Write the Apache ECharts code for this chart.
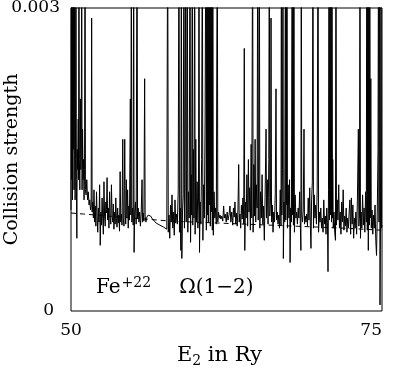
<!DOCTYPE html>
<html>
<head>
<meta charset="utf-8">
<script src="https://cdn.jsdelivr.net/npm/echarts@6/dist/echarts.min.js"></script>
<style>
  html, body { margin: 0; padding: 0; background: #fff; }
  #chart { width: 393px; height: 369px; }
</style>
</head>
<body>
<div id="chart"></div>
<script>
// collision strength Omega(1-2) for Fe+22, E2 in Ry
// 0.004 = resonance running off the top of the frame
const omegaA = [
  [50.00, 0.001], [50.03, 0.004], [50.06, 0.0013], [50.09, 0.004], [50.12, 0.0011], [50.15, 0.004],
  [50.18, 0.0016], [50.21, 0.004], [50.24, 0.0012], [50.27, 0.0017], [50.30, 0.004], [50.33, 0.0011],
  [50.36, 0.0015], [50.40, 0.004], [50.43, 0.0013], [50.47, 0.00072], [50.50, 0.0016], [50.54, 0.0014],
  [50.58, 0.0019], [50.61, 0.0013], [50.64, 0.004], [50.67, 0.0015], [50.71, 0.0012], [50.75, 0.0021],
  [50.79, 0.0014], [50.83, 0.0016], [50.86, 0.004], [50.89, 0.0012], [50.93, 0.0018], [50.97, 0.0013],
  [51.01, 0.0015], [51.05, 0.0011], [51.09, 0.0014], [51.13, 0.004], [51.16, 0.0012], [51.21, 0.00115],
  [51.27, 0.0013], [51.33, 0.0011], [51.39, 0.00118], [51.45, 0.00105], [51.51, 0.0011], [51.57, 0.001],
  [51.62, 0.00104], [51.66, 0.0029], [51.70, 0.00098], [51.75, 0.00108], [51.80, 0.00092], [51.85, 0.0012],
  [51.90, 0.00088], [51.95, 0.00104], [52.00, 0.00084], [52.05, 0.00118], [52.10, 0.00095], [52.15, 0.00078],
  [52.20, 0.00102], [52.25, 0.00088], [52.30, 0.00125], [52.35, 0.00065], [52.40, 0.00098], [52.45, 0.00085],
  [52.50, 0.00112], [52.55, 0.00092], [52.60, 0.00076], [52.65, 0.00128], [52.70, 0.00094], [52.75, 0.00084],
  [52.80, 0.00108], [52.85, 0.00097], [52.90, 0.00132], [52.95, 0.0009], [53.00, 0.00102], [53.05, 0.00082],
  [53.10, 0.00118], [53.15, 0.00092], [53.20, 0.00086], [53.25, 0.00125], [53.30, 0.00095], [53.35, 0.00088],
  [53.40, 0.00106], [53.45, 0.00081], [53.50, 0.00098], [53.55, 0.00086], [53.60, 0.00112], [53.65, 0.00092],
  [53.70, 0.00083], [53.75, 0.00102], [53.80, 0.00087], [53.85, 0.00095], [53.90, 0.00079], [53.95, 0.00138],
  [54.00, 0.00088], [54.05, 0.00096], [54.10, 0.00085], [54.16, 0.0017], [54.20, 0.00092], [54.26, 0.00084]
];
const omegaB = [
  [54.32, 0.0017], [54.36, 0.00098], [54.40, 0.00086], [54.45, 0.0013], [54.50, 0.00092], [54.55, 0.0012],
  [54.60, 0.00082], [54.65, 0.00104], [54.70, 0.0009], [54.77, 0.0021], [54.81, 0.00095], [54.85, 0.004],
  [54.89, 0.00088], [54.95, 0.00102], [55.00, 0.00085], [55.04, 0.004], [55.07, 0.00058], [55.12, 0.00096],
  [55.18, 0.00108], [55.24, 0.00086], [55.31, 0.004], [55.35, 0.00092], [55.40, 0.00102], [55.46, 0.00088],
  [55.52, 0.00098], [55.58, 0.00084], [55.64, 0.00096], [55.71, 0.0013], [55.75, 0.00088], [55.80, 0.00097],
  [55.86, 0.00089], [55.92, 0.0023], [55.96, 0.00094], [56.02, 0.00088], [56.10, 0.00093], [56.20, 0.00095],
  [56.30, 0.00096], [56.40, 0.00094], [56.55, 0.00091], [56.70, 0.00089], [56.85, 0.00087], [57.00, 0.00086],
  [57.15, 0.00085], [57.30, 0.00084], [57.45, 0.00083], [57.60, 0.00082], [57.70, 0.00081], [57.77, 0.004],
  [57.82, 0.00078], [57.88, 0.00095], [57.94, 0.00072], [58.00, 0.00105], [58.06, 0.00088], [58.12, 0.00115],
  [58.18, 0.00082], [58.24, 0.00098], [58.30, 0.00075], [58.36, 0.0011], [58.42, 0.00087], [58.48, 0.00096]
];
const omegaC = [
  [58.55, 0.00086], [58.62, 0.0012], [58.68, 0.004], [58.72, 0.00078], [58.78, 0.00102], [58.83, 0.0006],
  [58.87, 0.004], [58.91, 0.00052], [58.96, 0.00096], [59.02, 0.00115], [59.08, 0.004], [59.12, 0.00082],
  [59.17, 0.00125], [59.22, 0.004], [59.26, 0.00088], [59.30, 0.0014], [59.35, 0.004], [59.39, 0.00078],
  [59.44, 0.00118], [59.50, 0.00092], [59.57, 0.004], [59.61, 0.00068], [59.66, 0.00135], [59.70, 0.00095],
  [59.75, 0.004], [59.79, 0.00085], [59.84, 0.0016], [59.89, 0.00092], [59.94, 0.004], [59.98, 0.00076],
  [60.03, 0.0017], [60.08, 0.00088], [60.14, 0.00128], [60.20, 0.00082], [60.25, 0.00112], [60.29, 0.004],
  [60.33, 0.00058], [60.38, 0.00108], [60.44, 0.00086], [60.50, 0.0015], [60.56, 0.004], [60.60, 0.0007],
  [60.66, 0.00125], [60.72, 0.00092], [60.78, 0.0019], [60.84, 0.004], [60.88, 0.0008], [60.92, 0.004],
  [60.96, 0.00095], [61.00, 0.004], [61.04, 0.00088], [61.08, 0.004], [61.12, 0.00105], [61.16, 0.004],
  [61.20, 0.00084], [61.24, 0.004], [61.28, 0.00098], [61.32, 0.004], [61.36, 0.0008], [61.40, 0.004],
  [61.44, 0.00075], [61.50, 0.00118], [61.56, 0.00092], [61.62, 0.00102], [61.68, 0.00086], [61.76, 0.004],
  [61.80, 0.00088], [61.86, 0.00098], [61.92, 0.00092], [61.98, 0.00095], [62.05, 0.00091], [62.12, 0.00094],
  [62.20, 0.00089], [62.27, 0.00104], [62.33, 0.00092], [62.40, 0.00096], [62.48, 0.00088], [62.55, 0.00098],
  [62.62, 0.0009], [62.70, 0.00095]
];
const omegaD = [
  [62.78, 0.00104], [62.85, 0.00088], [62.92, 0.00098], [63.00, 0.00085], [63.06, 0.00102], [63.12, 0.00093],
  [63.18, 0.00108], [63.24, 0.00086], [63.30, 0.00097], [63.36, 0.00084], [63.42, 0.001], [63.48, 0.00145],
  [63.52, 0.00088], [63.58, 0.00096], [63.64, 0.00082], [63.70, 0.00105], [63.76, 0.00091], [63.82, 0.00112],
  [63.88, 0.00086], [63.93, 0.0026], [63.97, 0.0006], [64.02, 0.00108], [64.08, 0.00092], [64.14, 0.00135],
  [64.20, 0.00084], [64.26, 0.0015], [64.31, 0.00098], [64.36, 0.00122], [64.42, 0.0008], [64.48, 0.00165],
  [64.53, 0.00092], [64.60, 0.004], [64.64, 0.00078], [64.70, 0.00145], [64.75, 0.00094], [64.80, 0.0017],
  [64.85, 0.00088], [64.90, 0.00125], [64.96, 0.00102], [65.01, 0.004], [65.05, 0.0009], [65.10, 0.0016],
  [65.14, 0.004], [65.18, 0.00082], [65.24, 0.00118], [65.30, 0.00092], [65.36, 0.00135], [65.42, 0.00086],
  [65.48, 0.00104], [65.54, 0.0007], [65.60, 0.00112], [65.68, 0.0018], [65.72, 0.00092], [65.78, 0.0013],
  [65.84, 0.00086], [65.90, 0.0015], [65.94, 0.004], [65.98, 0.00094], [66.04, 0.00112], [66.08, 0.0029],
  [66.12, 0.00088], [66.18, 0.00105], [66.24, 0.00078], [66.30, 0.00098], [66.36, 0.00088], [66.42, 0.00116],
  [66.48, 0.0022], [66.52, 0.0009], [66.58, 0.00098], [66.64, 0.00086], [66.70, 0.00095], [66.76, 0.00082]
];
const omegaE = [
  [66.82, 0.0012], [66.88, 0.00085], [66.91, 0.004], [66.95, 0.00095], [67.00, 0.0014], [67.04, 0.004],
  [67.07, 0.00052], [67.12, 0.00108], [67.18, 0.00088], [67.24, 0.004], [67.27, 0.0009], [67.30, 0.004],
  [67.33, 0.00105], [67.36, 0.004], [67.40, 0.00082], [67.46, 0.00125], [67.52, 0.00092], [67.57, 0.0013],
  [67.61, 0.00048], [67.66, 0.00102], [67.72, 0.00088], [67.78, 0.004], [67.81, 0.00095], [67.85, 0.004],
  [67.88, 0.00085], [67.92, 0.004], [67.96, 0.00078], [68.02, 0.00115], [68.08, 0.00092], [68.14, 0.00098],
  [68.20, 0.00086], [68.26, 0.00102], [68.32, 0.00092], [68.38, 0.00118], [68.44, 0.00082], [68.48, 0.0006],
  [68.51, 0.004], [68.55, 0.00095], [68.61, 0.00088], [68.67, 0.001], [68.73, 0.0018], [68.77, 0.00086],
  [68.83, 0.00094], [68.89, 0.00088], [68.95, 0.00096], [69.01, 0.00084], [69.07, 0.00112], [69.13, 0.0009],
  [69.19, 0.00122], [69.24, 0.00085], [69.29, 0.00062], [69.34, 0.0011], [69.40, 0.00128], [69.45, 0.004],
  [69.49, 0.00082], [69.55, 0.00115], [69.61, 0.00092], [69.67, 0.00105], [69.73, 0.00086], [69.79, 0.0012],
  [69.86, 0.004], [69.90, 0.00078], [69.96, 0.00098], [70.02, 0.00088], [70.08, 0.00102], [70.14, 0.00082],
  [70.20, 0.00092], [70.26, 0.00078], [70.32, 0.0011], [70.38, 0.00086], [70.44, 0.00094], [70.50, 0.00076],
  [70.56, 0.00102], [70.62, 0.00084], [70.66, 0.00039], [70.70, 0.0012], [70.74, 0.004], [70.78, 0.0009],
  [70.82, 0.004], [70.86, 0.00095], [70.90, 0.004], [70.94, 0.00088], [70.98, 0.004], [71.02, 0.00092]
];
const omegaF = [
  [71.04, 0.0015], [71.08, 0.00082], [71.14, 0.00098], [71.20, 0.00078], [71.26, 0.0007], [71.30, 0.004],
  [71.34, 0.00085], [71.40, 0.0011], [71.46, 0.0009], [71.52, 0.00125], [71.58, 0.00082], [71.64, 0.00098],
  [71.70, 0.00076], [71.76, 0.00108], [71.82, 0.00088], [71.88, 0.0012], [71.94, 0.0008], [72.00, 0.00094],
  [72.06, 0.00084], [72.12, 0.00102], [72.18, 0.00078], [72.24, 0.00092], [72.30, 0.00082], [72.36, 0.00098],
  [72.42, 0.0011], [72.48, 0.00076], [72.54, 0.00112], [72.60, 0.00086], [72.66, 0.00105], [72.72, 0.00072],
  [72.78, 0.00092], [72.84, 0.00082], [72.90, 0.00098], [72.96, 0.00076], [73.02, 0.00108], [73.10, 0.0018],
  [73.14, 0.00084], [73.19, 0.00095], [73.23, 0.004], [73.27, 0.00072], [73.32, 0.00098], [73.38, 0.00082],
  [73.44, 0.00115], [73.50, 0.00085], [73.56, 0.00102], [73.62, 0.00078], [73.68, 0.00118], [73.74, 0.00088],
  [73.78, 0.004], [73.82, 0.0008], [73.86, 0.004], [73.90, 0.0006], [73.94, 0.004], [73.98, 0.00085],
  [74.02, 0.004], [74.06, 0.00092], [74.10, 0.0023], [74.14, 0.00082], [74.20, 0.001], [74.26, 0.00076],
  [74.32, 0.00095], [74.38, 0.00082], [74.44, 0.00105], [74.50, 0.0007], [74.56, 0.00055], [74.62, 0.00098],
  [74.68, 0.0016], [74.72, 0.004], [74.76, 0.00088], [74.80, 0.004], [74.84, 0.00006], [74.88, 0.0009],
  [74.92, 0.004], [74.96, 0.00082], [75.00, 0.00085]
];
// dashed background curve
const background = [
  [50, 0.00097], [51, 0.00096], [52, 0.00095], [53, 0.00094], [54, 0.00093], [55, 0.00092],
  [56, 0.00091], [57, 0.0009], [58, 0.00089], [60, 0.00088], [62, 0.00087], [64, 0.00086],
  [66, 0.00085], [68, 0.00084], [70, 0.00083], [72, 0.00082], [75, 0.0008]
];
const xTicks = [50, 75];
const yTicks = [0, 0.003];

const omega = omegaA.concat(omegaB, omegaC, omegaD, omegaE, omegaF);
const serif = 'DejaVu Serif';

const chart = echarts.init(document.getElementById('chart'));
chart.setOption({
  animation: false,
  backgroundColor: '#fff',
  textStyle: { fontFamily: serif, color: '#000' },
  grid: {
    left: 71, right: 11, top: 8, bottom: 58,
    outerBoundsMode: 'none', containLabel: false,
    show: true, borderColor: '#000', borderWidth: 1, backgroundColor: 'transparent'
  },
  xAxis: {
    type: 'value',
    min: xTicks[0], max: xTicks[1], interval: xTicks[1] - xTicks[0],
    axisLine: { show: false }, axisTick: { show: false }, splitLine: { show: false },
    axisLabel: { fontFamily: serif, fontSize: 17, color: '#000', margin: 11, alignMaxLabel: 'right' },
    name: '{m|E}{s|2}{m| in Ry}',
    nameLocation: 'middle', nameGap: 33, nameMoveOverlap: false,
    nameTextStyle: {
      padding: [0, 14, 0, 0],
      rich: {
        m: { fontFamily: serif, fontSize: 21, color: '#000' },
        s: { fontFamily: serif, fontSize: 14, color: '#000', verticalAlign: 'bottom', padding: [10, 0, 0, 0] }
      }
    }
  },
  yAxis: {
    type: 'value',
    min: yTicks[0], max: yTicks[1], interval: yTicks[1] - yTicks[0],
    axisLine: { show: false }, axisTick: { show: false }, splitLine: { show: false },
    axisLabel: {
      fontFamily: serif, fontSize: 17, color: '#000', margin: 11,
      formatter: v => (v === 0 ? '{z|0}' : v.toFixed(3)),
      rich: { z: { fontFamily: serif, fontSize: 17, color: '#000', padding: [0, 6, 0, 0] } }
    },
    name: 'Collision strength',
    nameLocation: 'middle', nameGap: 49, nameMoveOverlap: false,
    nameTextStyle: { fontFamily: serif, fontSize: 19, color: '#000' }
  },
  graphic: [{
    type: 'text', left: 96, top: 276,
    style: {
      text: '{m|Fe}{p|+22}{g|}{m|Ω(1−2)}',
      rich: {
        m: { fontFamily: serif, fontSize: 20, fill: '#000' },
        p: { fontFamily: serif, fontSize: 14, fill: '#000', verticalAlign: 'top', padding: [0, 0, 10, 1] },
        g: { width: 28 }
      }
    }
  }],
  series: [
    {
      type: 'line', data: background, showSymbol: false, symbol: 'none',
      lineStyle: { color: '#000', width: 1, type: [5, 4] }, z: 2, silent: true
    },
    {
      type: 'line', data: omega, showSymbol: false, symbol: 'none', sampling: null,
      lineStyle: { color: '#000', width: 1 }, clip: true, z: 3, silent: true
    }
  ]
});
</script>
</body>
</html>
